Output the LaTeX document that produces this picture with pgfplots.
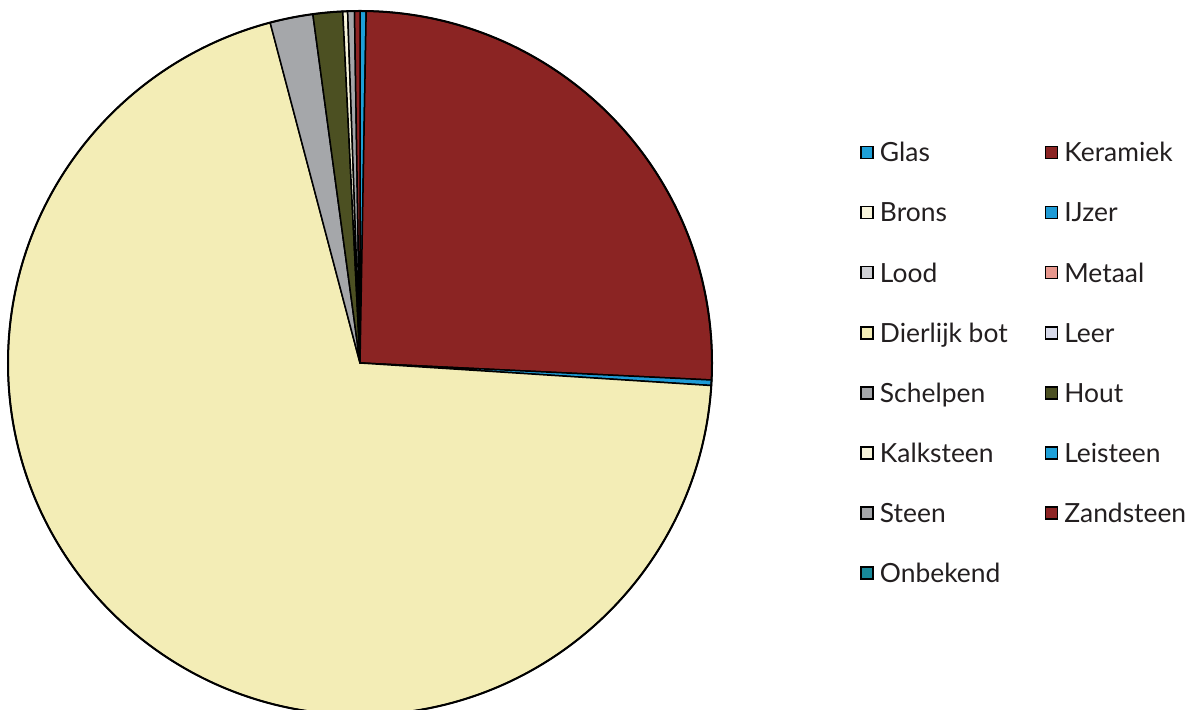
\documentclass[border=0pt]{standalone}
\usepackage{fontspec}
\setmainfont{Lato}
\usepackage{pgfplots}
\usepackage{pgfplotstable}
\pgfplotsset{compat=1.18}

\definecolor{cGlas}{HTML}{1EA0D8}
\definecolor{cKeramiek}{HTML}{8B2423}
\definecolor{cBrons}{HTML}{F8F5DC}
\definecolor{cIJzer}{HTML}{1E9BD6}
\definecolor{cLood}{HTML}{CFD0D4}
\definecolor{cMetaal}{HTML}{E8978D}
\definecolor{cDierlijk}{HTML}{F3EDB6}
\definecolor{cLeer}{HTML}{D7DAEA}
\definecolor{cSchelpen}{HTML}{A5A7AA}
\definecolor{cHout}{HTML}{4C5022}
\definecolor{cKalksteen}{HTML}{F7F4DA}
\definecolor{cLeisteen}{HTML}{1EA0D8}
\definecolor{cSteen}{HTML}{A4A6A9}
\definecolor{cZandsteen}{HTML}{8D2424}
\definecolor{cOnbekend}{HTML}{18899A}
\definecolor{txt}{HTML}{231F20}

\pgfplotstableread[col sep=comma]{
name,value,col
Glas,0.28,cGlas
Keramiek,25.50,cKeramiek
Brons,0,cBrons
IJzer,0.25,cIJzer
Lood,0,cLood
Metaal,0,cMetaal
Dierlijk bot,69.90,cDierlijk
Leer,0,cLeer
Schelpen,1.97,cSchelpen
Hout,1.36,cHout
Kalksteen,0.22,cKalksteen
Leisteen,0,cLeisteen
Steen,0.31,cSteen
Zandsteen,0.25,cZandsteen
Onbekend,0,cOnbekend
}\piedata

\begin{document}
\begin{tikzpicture}
\useasboundingbox (0,0) rectangle (600bp,355bp);
\begin{axis}[
  at={(180bp,173.5bp)}, anchor=center,
  width=352bp, height=352bp, scale only axis,
  xmin=-1, xmax=1, ymin=-1, ymax=1,
  hide axis, clip=false,
  legend columns=2,
  legend cell align=left,
  legend image code/.code={\filldraw[#1,draw=black,line width=0.8bp] (0bp,1.7bp) rectangle (6bp,7.7bp);},
  legend style={draw=none, fill=none,
    at={(axis description cs:1.2017,0.819)}, anchor=north west,
    font=\fontsize{13.2bp}{15bp}\selectfont, text=txt,
    row sep=17.55bp,
    nodes={inner sep=0pt, text height=9.5bp, text depth=3bp, anchor=base west},
    /tikz/every odd column/.append style={column sep=3bp},
    /tikz/every even column/.append style={column sep=18.5bp},
  },
]
\pgfmathsetmacro\total{0}
\pgfplotsforeachungrouped \i in {0,...,14}{%
  \pgfplotstablegetelem{\i}{value}\of\piedata \let\v\pgfplotsretval
  \pgfmathsetmacro\total{\total+\v}%
}
\def\cum{0}
\pgfplotsforeachungrouped \i in {0,...,14}{%
  \pgfplotstablegetelem{\i}{value}\of\piedata \let\v\pgfplotsretval
  \pgfplotstablegetelem{\i}{col}\of\piedata \let\c\pgfplotsretval
  \pgfmathsetmacro\a{90-3.6*(\cum*(100/\total))}%
  \pgfmathsetmacro\cum{\cum+\v}%
  \pgfmathsetmacro\b{90-3.6*(\cum*(100/\total))}%
  \pgfmathsetmacro\xa{cos(\a)}%
  \pgfmathsetmacro\ya{sin(\a)}%
  \ifdim\v pt>0pt
    \edef\temp{\noexpand\filldraw[fill=\c, draw=black, line width=0.75bp, line join=round] (axis cs:0,0) -- (axis cs:\xa,\ya) arc[start angle=\a, end angle=\b, radius=176bp] -- cycle;}%
    \temp
  \fi
}
\draw[black, line width=1bp] (axis cs:0,0) circle[radius=176bp];
\addlegendimage{fill=cGlas}\addlegendentry{Glas}
\addlegendimage{fill=cKeramiek}\addlegendentry{Keramiek}
\addlegendimage{fill=cBrons}\addlegendentry{Brons}
\addlegendimage{fill=cIJzer}\addlegendentry{IJzer}
\addlegendimage{fill=cLood}\addlegendentry{Lood}
\addlegendimage{fill=cMetaal}\addlegendentry{Metaal}
\addlegendimage{fill=cDierlijk}\addlegendentry{Dierlijk bot}
\addlegendimage{fill=cLeer}\addlegendentry{Leer}
\addlegendimage{fill=cSchelpen}\addlegendentry{Schelpen}
\addlegendimage{fill=cHout}\addlegendentry{Hout}
\addlegendimage{fill=cKalksteen}\addlegendentry{Kalksteen}
\addlegendimage{fill=cLeisteen}\addlegendentry{Leisteen}
\addlegendimage{fill=cSteen}\addlegendentry{Steen}
\addlegendimage{fill=cZandsteen}\addlegendentry{Zandsteen}
\addlegendimage{fill=cOnbekend}\addlegendentry{Onbekend}
\end{axis}
\end{tikzpicture}
\end{document}
